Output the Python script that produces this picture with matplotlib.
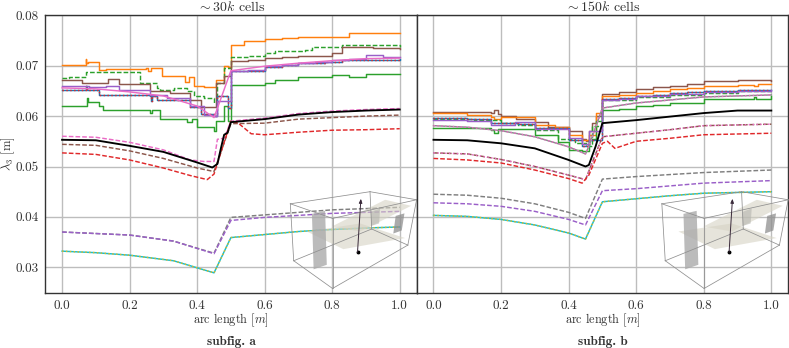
import matplotlib
matplotlib.use("Agg")
import matplotlib.pyplot as plt
from matplotlib.patches import Polygon

plt.rcParams.update({'font.family': 'cmr10', 'mathtext.fontset': 'cm', 'axes.formatter.use_mathtext': True,
                     'axes.unicode_minus': False, 'font.size': 9.5, 'text.color': '#333333',
                     'axes.labelcolor': '#333333', 'xtick.labelcolor': '#333333', 'ytick.labelcolor': '#333333'})

# ---------- panel a, stepped curves ----------
a_orange_x = [0,.07,.072,.077,.11,.13,.25,.255,.262,.295,.365,.375,.39,.42,.45,.455,.48,.49,.5,.54,.55,.6,.65,.7,.8,.85,1.0]
a_orange_y = [.0702,.0713,.0705,.0708,.0692,.0694,.0695,.0689,.0695,.0679,.0667,.0677,.0659,.0657,.0658,.0672,.0700,.0698,.0742,.0749,.0749,.0752,.0755,.0756,.0757,.0764,.0764]
a_gdash_x = [0,.02,.07,.23,.28,.29,.33,.37,.39,.42,.45,.46,.48,.5,.55,.6,.63,.72,.74,.83,.92,1.0]
a_gdash_y = [.0676,.0678,.0688,.0665,.0655,.0651,.0656,.0649,.0640,.0636,.0626,.0665,.0695,.0717,.0719,.0725,.0730,.0732,.0737,.0742,.0741,.0738]
a_brown_x = [0,.06,.135,.17,.26,.32,.38,.41,.45,.455,.48,.5,.55,.6,.65,.7,.8,.83,.92,1.0]
a_brown_y = [.0671,.0665,.0673,.0664,.0650,.0646,.0632,.0619,.0619,.0665,.0680,.0709,.0712,.0715,.0718,.0720,.0725,.0737,.0736,.0734]
a_purple_x = [0,.08,.13,.17,.26,.31,.38,.42,.45,.46,.5,.55,.6,.65,.7,.75,.8,.85,.9,.95,1.0]
a_purple_y = [.0660,.0657,.0660,.0651,.0642,.0636,.0620,.0603,.0600,.0630,.0690,.0692,.0699,.0702,.0705,.0708,.0711,.0714,.0721,.0718,.0717]
a_blue_x = [0,.07,.075,.11,.26,.262,.265,.28,.38,.41,.45,.46,.49,.5,.55,.6,.65,.7,.78,.83,1.0]
a_blue_y = [.0652,.0660,.0652,.0641,.0639,.0630,.0639,.0632,.0619,.0605,.0600,.0640,.0616,.0690,.0690,.0698,.0702,.0705,.0707,.0712,.0713]
a_green_x = [0,.075,.078,.11,.12,.26,.265,.29,.37,.385,.4,.45,.455,.48,.49,.5,.6,.63,.7,.8,.85,.9,1.0]
a_green_y = [.0621,.0636,.0627,.0620,.0613,.0607,.0612,.0595,.0589,.0594,.0579,.0571,.0590,.0620,.0590,.0662,.0666,.0672,.0677,.0682,.0678,.0684,.0683]
# ---------- panel a, smooth curves ----------
a_pink_x = [0,.1,.2,.3,.4,.45,.5,.6,.7,.8,.9,1.0]
a_pink_y = [.0656,.0654,.0648,.0640,.0620,.0597,.0690,.0699,.0705,.0710,.0714,.0715]
a_black_x = [0,.1,.2,.3,.4,.445,.46,.47,.48,.49,.5,.6,.7,.8,.9,1.0]
a_black_y = [.0553,.0552,.0541,.0529,.0508,.0498,.0505,.0535,.0563,.0567,.0588,.0594,.0603,.0608,.0611,.0613]
a_pinkd_x = [0,.1,.2,.3,.38,.42,.45,.46,.48,.5,.6,.7,.8,.9,1.0]
a_pinkd_y = [.0560,.0558,.0548,.0533,.0513,.0510,.0510,.0554,.0556,.0590,.0596,.0605,.0610,.0613,.0615]
a_brownd_x = [0,.1,.2,.3,.4,.45,.5,.6,.7,.8,.9,1.0]
a_brownd_y = [.0544,.0542,.0531,.0516,.0497,.0490,.0585,.0586,.0594,.0597,.0600,.0602]
a_redd_x = [0,.1,.2,.3,.38,.43,.45,.5,.52,.56,.6,.7,.8,.9,1.0]
a_redd_y = [.0527,.0524,.0513,.0497,.0482,.0474,.0485,.0590,.0587,.0565,.0563,.0568,.0572,.0573,.0575]
a_low_x = [0,.2,.33,.45,.5,.6,.8,1.0]
a_gray_y = [.0370,.0364,.0352,.0328,.0399,.0404,.0414,.0419]
a_violet_y = [.0370,.0364,.0352,.0327,.0393,.0399,.0407,.0411]
a_lime_x = [0,.1,.2,.33,.45,.5,.6,.7,.8,.9,1.0]
a_lime_y = [.0332,.0329,.0324,.0313,.0289,.0359,.0365,.0371,.0375,.0378,.0380]

# ---------- panel b, stepped curves ----------
b_brown_x = [0,.1,.17,.18,.19,.2,.245,.3,.34,.4,.44,.45,.46,.47,.48,.5,.55,.6,.65,.7,.75,.8,.85,.9,.95,1.0]
b_brown_y = [.0609,.0609,.0606,.0612,.0604,.0600,.0595,.0589,.0579,.0570,.0554,.0550,.0570,.0586,.0600,.0644,.0647,.0654,.0657,.0660,.0664,.0669,.0670,.0671,.0672,.0670]
b_orange_x = [0,.1,.17,.18,.2,.25,.3,.36,.4,.44,.46,.48,.5,.55,.6,.65,.7,.75,.8,.9,.95,.96,1.0]
b_orange_y = [.0607,.0602,.0599,.0594,.0599,.0598,.0583,.0579,.0563,.0552,.0563,.0606,.0639,.0641,.0646,.0649,.0654,.0656,.0659,.0662,.0660,.0664,.0664]
b_blue_x = [0,.1,.17,.25,.3,.4,.44,.46,.5,.55,.6,.65,.7,.75,.8,.9,1.0]
b_blue_y = [.0596,.0595,.0587,.0585,.0576,.0553,.0541,.0553,.0634,.0636,.0640,.0642,.0645,.0647,.0649,.0651,.0652]
b_gdash_x = [0,.05,.12,.2,.25,.3,.37,.42,.45,.47,.5,.6,.7,.8,.9,1.0]
b_gdash_y = [.0594,.0594,.0592,.0587,.0582,.0572,.0555,.0546,.0540,.0580,.0632,.0638,.0642,.0646,.0650,.0650]
b_purple_x = [0,.1,.17,.24,.3,.4,.44,.46,.5,.55,.6,.7,.8,.9,1.0]
b_purple_y = [.0592,.0590,.0583,.0588,.0574,.0556,.0544,.0570,.0632,.0634,.0639,.0644,.0648,.0650,.0651]
b_green_x = [0,.17,.18,.19,.3,.37,.4,.44,.46,.48,.5,.55,.6,.65,.7,.8,.95,.955,1.0]
b_green_y = [.0576,.0573,.0566,.0574,.0562,.0549,.0533,.0530,.0555,.0590,.0613,.0615,.0621,.0623,.0626,.0634,.0637,.0633,.0639]
# ---------- panel b, smooth curves ----------
b_pink_x = [0,.1,.2,.3,.4,.45,.46,.5,.6,.7,.8,1.0]
b_pink_y = [.0581,.0578,.0571,.0559,.0539,.0525,.0540,.0616,.0626,.0632,.0638,.0642]
b_black_x = [0,.1,.2,.3,.4,.45,.46,.48,.49,.5,.6,.7,.8,.9,1.0]
b_black_y = [.0553,.0552,.0546,.0536,.0513,.0500,.0503,.0540,.0563,.0586,.0592,.0599,.0606,.0611,.0611]
b_dash_x = [0,.1,.2,.3,.4,.45,.5,.6,.7,.8,1.0]
b_pinkd_y = [.0527,.0525,.0514,.0500,.0483,.0474,.0559,.0566,.0573,.0581,.0584]
b_redd_x = [0,.1,.2,.3,.4,.44,.46,.5,.515,.537,.6,.7,.8,1.0]
b_redd_y = [.0516,.0513,.0507,.0493,.0476,.0467,.0483,.0546,.0550,.0536,.0550,.0556,.0563,.0566]
b_gray_x = [0,.1,.2,.3,.4,.45,.5,.6,.8,1.0]
b_gray_y = [.0445,.0443,.0437,.0426,.0409,.0397,.0475,.0480,.0488,.0493]
b_violet_y = [.0428,.0426,.0421,.0411,.0395,.0384,.0452,.0456,.0467,.0472]
b_lime_x = [0,.1,.2,.3,.4,.45,.5,.6,.7,.8,1.0]
b_lime_y = [.0403,.0401,.0395,.0384,.0368,.0356,.0430,.0436,.0442,.0447,.0450]

tick_x = [0, .2, .4, .6, .8, 1.0]
tick_y = [.03, .04, .05, .06, .07, .08]

# ---------- inset sketch, in data units ----------
A, B, C, D = (.676,.0426), (.912,.0450), (1.050,.0434), (1.024,.0344)
E, F, G, H = (.801,.0258), (.686,.0313), (.801,.0397), (.917,.0376)
box_edges = [(A,B), (B,C), (C,D), (D,E), (E,F), (F,A), (A,G), (G,C), (G,E), (F,H), (H,D), (B,H)]
plane_one = [(.725,.0371),(.833,.0336),(1.016,.0358),(.883,.0387)]
plane_two = [(.799,.0381),(.957,.0434),(1.034,.0422),(.883,.0371)]
plate_left = [(.740,.0406),(.779,.0412),(.784,.0305),(.745,.0296)]
plate_mid = [(.915,.0410),(.942,.0417),(.939,.0387),(.915,.0382)]
plate_right = [(.988,.0402),(1.014,.0407),(1.006,.0373),(.981,.0367)]
arrow_start = (.875,.0330)
arrow_end = (.885,.0436)


def inset(ax):
    for p, c, al, z in [(plane_one, '#d6d3c4', .6, 5), (plane_two, '#d6d3c4', .6, 5),
                        (plate_left, '#aaaaaa', .8, 6), (plate_mid, '#b5b5ae', .6, 6), (plate_right, '#8f8f8f', .75, 6)]:
        ax.add_patch(Polygon(p, closed=True, fc=c, ec='none', alpha=al, zorder=z))
    for e in box_edges:
        ax.plot([e[0][0], e[1][0]], [e[0][1], e[1][1]], color='#8f8f8f', lw=.55, zorder=7, clip_on=False)
    ax.plot(*arrow_start, 'o', color='k', ms=1.8, zorder=8)
    ax.annotate('', xy=arrow_end, xytext=arrow_start, zorder=8,
                arrowprops=dict(arrowstyle='-|>,head_width=.1,head_length=.25', color='#3a2a3a', lw=.7, shrinkA=0, shrinkB=0))


fig = plt.figure(figsize=(7.89, 3.48), dpi=100)
axa = fig.add_axes([45.2/789, 1-292.5/348, (416.6-45.2)/789, (292.5-15.3)/348])
axb = fig.add_axes([416.6/789, 1-292.5/348, (788.2-416.6)/789, (292.5-15.3)/348])
LW = 1.05
DASH = dict(ls='--', dashes=(3.2, 1.4))
step = dict(drawstyle='steps-post', lw=LW)
smooth = dict(lw=LW)
RED = '#e0282a'
PINK = '#ea6cc6'
PURPLE = '#9a5fc8'

# panel a
axa.plot(a_orange_x, a_orange_y, color='tab:orange', **step)
axa.plot(a_gdash_x, a_gdash_y, color='tab:green', **DASH, **step)
axa.plot(a_green_x, a_green_y, color='tab:green', **step)
axa.plot(a_brown_x, a_brown_y, color='tab:brown', **step)
axa.plot(a_blue_x, a_blue_y, color='tab:blue', **step)
axa.plot(a_blue_x, a_blue_y, color=RED, ls=':', **step)
axa.plot(a_purple_x, a_purple_y, color=PURPLE, **step)
axa.plot(a_pink_x, a_pink_y, color=PINK, **smooth)
axa.plot(a_pinkd_x, a_pinkd_y, color=PINK, **DASH, **smooth)
axa.plot(a_brownd_x, a_brownd_y, color='tab:brown', **DASH, **smooth)
axa.plot(a_redd_x, a_redd_y, color=RED, **DASH, **smooth)
axa.plot(a_black_x, a_black_y, color='k', lw=1.35)
axa.plot(a_low_x, a_gray_y, color='tab:gray', **DASH, **smooth)
axa.plot(a_low_x, a_violet_y, color=PURPLE, **DASH, **smooth)
axa.plot(a_lime_x, a_lime_y, color='tab:cyan', **smooth)
axa.plot(a_lime_x, a_lime_y, color='#e0b820', ls=':', **smooth)

# panel b
axb.plot(b_brown_x, b_brown_y, color='tab:brown', **step)
axb.plot(b_orange_x, b_orange_y, color='tab:orange', **step)
axb.plot(b_green_x, b_green_y, color='tab:green', **step)
axb.plot(b_gdash_x, b_gdash_y, color='tab:green', **DASH, **step)
axb.plot(b_blue_x, b_blue_y, color='tab:blue', **step)
axb.plot(b_blue_x, b_blue_y, color=RED, ls=':', **step)
axb.plot(b_purple_x, b_purple_y, color=PURPLE, **step)
axb.plot(b_pink_x, b_pink_y, color='#8c8c8c', **smooth)
axb.plot(b_pink_x, b_pink_y, color=PINK, ls=':', **smooth)
axb.plot(b_dash_x, b_pinkd_y, color='tab:brown', **DASH, **smooth)
axb.plot(b_dash_x, b_pinkd_y, color=PINK, ls=':', **smooth)
axb.plot(b_redd_x, b_redd_y, color=RED, **DASH, **smooth)
axb.plot(b_black_x, b_black_y, color='k', lw=1.35)
axb.plot(b_gray_x, b_gray_y, color='tab:gray', **DASH, **smooth)
axb.plot(b_gray_x, b_violet_y, color=PURPLE, **DASH, **smooth)
axb.plot(b_lime_x, b_lime_y, color='tab:cyan', **smooth)
axb.plot(b_lime_x, b_lime_y, color='#e0b820', ls=':', **smooth)

for ax, title, foot in [(axa, r'$\sim 30k$ cells', 'subfig. a'), (axb, r'$\sim 150k$ cells', 'subfig. b')]:
    ax.set_xlim(-.05, 1.05)
    ax.set_ylim(.025, .08)
    ax.set_xticks(tick_x)
    ax.set_xticklabels(['%.1f' % t for t in tick_x])
    ax.set_yticks(tick_y)
    ax.set_yticklabels(['%.2f' % t for t in tick_y])
    ax.grid(True, color='#bdbdbd', lw=1.0)
    ax.set_axisbelow(True)
    ax.tick_params(length=0, pad=5, labelsize=9.5)
    for s in ax.spines.values():
        s.set_color('#333333')
        s.set_linewidth(1.0)
    ax.set_title(title, fontsize=10, pad=3)
    ax.set_xlabel(r'arc length $[m]$', fontsize=8.8, labelpad=0)
    ax.text(.5, -.178, foot, transform=ax.transAxes, ha='center', va='center', fontsize=9.5, family='cmb10')
    inset(ax)

axa.set_ylabel(r'$\lambda_3$ [m]', fontsize=9, labelpad=-1.5)
axb.tick_params(labelleft=False)
fig.savefig('out.png', dpi=100)
